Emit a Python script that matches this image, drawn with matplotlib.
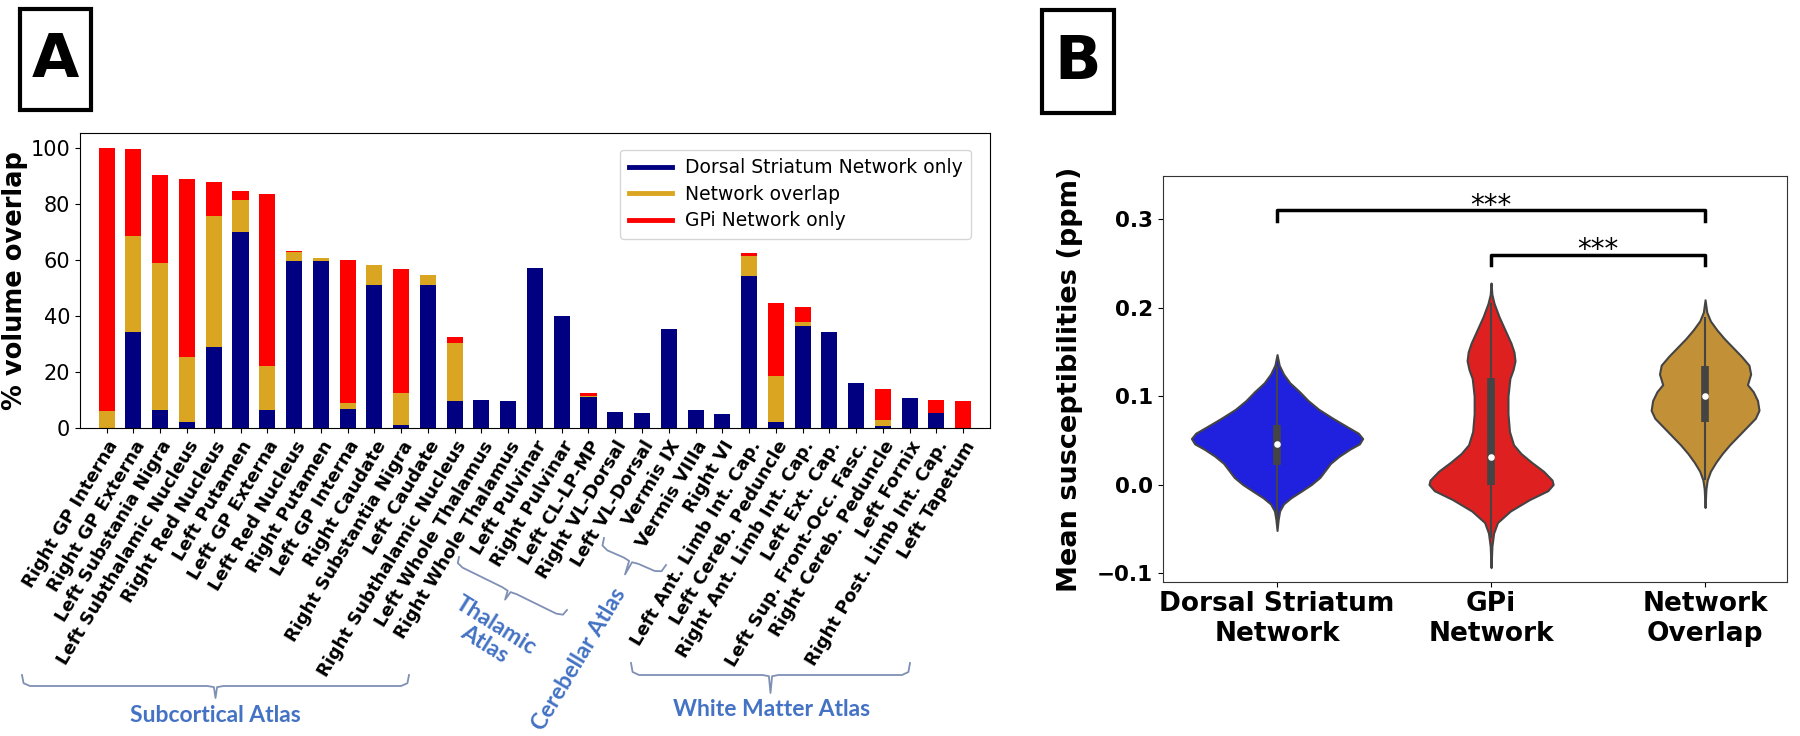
import numpy as np
import matplotlib.pyplot as plt
from matplotlib.lines import Line2D
from matplotlib.patches import Rectangle

# ---- panel A data (% volume overlap) ----
regions = ["Right GP Interna", "Right GP Externa", "Left Substania Nigra",
           "Left Subthalamic Nucleus", "Right Red Nucleus", "Left Putamen",
           "Left GP Externa", "Left Red Nucleus", "Right Putamen",
           "Left GP Interna", "Right Caudate", "Right Substantia Nigra",
           "Left Caudate", "Right Subthalamic Nucleus", "Left Whole Thalamus",
           "Right Whole Thalamus", "Left Pulvinar", "Right Pulvinar",
           "Left CL-LP-MP", "Right VL-Dorsal", "Left VL-Dorsal", "Vermis IX",
           "Vermis VIIIa", "Right VI", "Left Ant. Limb Int. Cap.",
           "Left Cereb. Peduncle", "Right Ant. Limb Int. Cap.", "Left Ext. Cap.",
           "Left Sup. Front-Occ. Fasc.", "Right Cereb. Peduncle", "Left Fornix",
           "Right Post. Limb Int. Cap.", "Left Tapetum"]
dorsal_only = [0, 34.2, 6.5, 2.0, 28.9, 70.1, 6.4, 59.7, 59.7, 6.9, 51.1, 0.95,
               51.1, 9.6, 10.0, 9.6, 57.2, 40.1, 10.9, 5.6, 5.2, 35.2, 6.4, 5.1,
               54.2, 2.3, 36.3, 34.2, 16.0, 0.8, 10.6, 5.3, 0]
overlap = [6.0, 34.3, 52.3, 23.2, 46.9, 11.5, 15.6, 3.1, 0.9, 2.2, 7.2, 11.45,
           3.5, 20.7, 0, 0, 0, 0, 0.4, 0, 0, 0, 0, 0,
           7.3, 16.1, 1.5, 0, 0, 1.9, 0, 0.2, 0]
gpi_only = [94.0, 31.1, 31.5, 63.6, 12.1, 3.2, 61.5, 0.5, 0, 50.9, 0, 44.3,
            0, 2.1, 0.1, 0, 0, 0, 1.1, 0, 0, 0, 0, 0,
            1.1, 26.4, 5.5, 0, 0, 11.4, 0, 4.6, 9.5]

# ---- panel B data: violin outlines (value, half width) ----
groups = ["Dorsal Striatum\nNetwork", "GPi\nNetwork", "Network\nOverlap"]
dorsal_y = [0.147, 0.135, 0.125, 0.115, 0.105, 0.095, 0.085, 0.075, 0.065, 0.058,
            0.052, 0.046, 0.040, 0.032, 0.024, 0.016, 0.008, 0.0, -0.008, -0.015,
            -0.022, -0.030, -0.040, -0.052]
dorsal_w = [0, 0.01, 0.03, 0.06, 0.105, 0.145, 0.195, 0.26, 0.33, 0.38,
            0.40, 0.385, 0.34, 0.29, 0.25, 0.225, 0.2, 0.16, 0.11, 0.065,
            0.03, 0.012, 0.005, 0]
gpi_y = [0.228, 0.215, 0.205, 0.19, 0.175, 0.16, 0.15, 0.14, 0.13, 0.12, 0.10,
         0.08, 0.06, 0.045, 0.035, 0.025, 0.015, 0.005, 0.0, -0.007, -0.017,
         -0.030, -0.043, -0.055, -0.07, -0.094]
gpi_w = [0, 0.004, 0.014, 0.037, 0.065, 0.093, 0.107, 0.112, 0.103, 0.088, 0.079,
         0.079, 0.086, 0.105, 0.14, 0.19, 0.245, 0.285, 0.29, 0.265, 0.18,
         0.09, 0.03, 0.012, 0.004, 0]
ovl_y = [0.209, 0.195, 0.185, 0.175, 0.165, 0.155, 0.145, 0.135, 0.125, 0.113,
         0.105, 0.095, 0.084, 0.075, 0.065, 0.055, 0.045, 0.035, 0.025, 0.015,
         0.005, -0.005, -0.026]
ovl_w = [0, 0.008, 0.025, 0.055, 0.09, 0.13, 0.17, 0.205, 0.213, 0.198,
         0.225, 0.245, 0.252, 0.235, 0.195, 0.155, 0.115, 0.08, 0.05, 0.025,
         0.01, 0.004, 0]
medians = [0.046, 0.031, 0.100]
q1 = [0.022, 0.0, 0.071]
q3 = [0.067, 0.120, 0.134]
whisk_lo = [-0.046, -0.06, 0.005]
whisk_hi = [0.134, 0.205, 0.19]

violin_colors = ["#2020DF", "#DF2020", "#C29137"]
bar_colors = ["navy", "goldenrod", "red"]
atlas_color = "#4472C4"
brace_color = "#7F90B5"

fig = plt.figure(figsize=(18, 7.36), dpi=100)

# ---------------- panel A ----------------
axA = fig.add_axes([0.0444, 0.4185, 0.5056, 0.4008])
x = np.arange(len(regions))
b1 = np.array(dorsal_only)
b2 = b1 + np.array(overlap)
axA.bar(x, dorsal_only, width=0.6, color=bar_colors[0])
axA.bar(x, overlap, width=0.6, bottom=b1, color=bar_colors[1])
axA.bar(x, gpi_only, width=0.6, bottom=b2, color=bar_colors[2])
axA.set_xlim(-1, len(regions))
axA.set_ylim(0, 105.4)
axA.set_xticks(x)
axA.set_xticklabels(regions, rotation=59, ha="right", va="top",
                    rotation_mode="anchor", fontsize=13, fontweight="bold")
axA.tick_params(axis="y", labelsize=15)
axA.set_ylabel("% volume overlap", fontsize=18.5, fontweight="bold", labelpad=2)
handles = [Line2D([], [], color=c, lw=3.5) for c in bar_colors]
axA.legend(handles, ["Dorsal Striatum Network only", "Network overlap",
                     "GPi Network only"], loc="upper right", fontsize=13.5,
           handlelength=2.3, handletextpad=0.7, borderpad=0.45,
           labelspacing=0.4, bbox_to_anchor=(0.9895, 0.975))

# ---------------- panel B ----------------
axB = fig.add_axes([0.6461, 0.2096, 0.3467, 0.5512])
outlines = [(dorsal_y, dorsal_w), (gpi_y, gpi_w), (ovl_y, ovl_w)]
vpstats = []
for (yy, ww), med in zip(outlines, medians):
    vpstats.append(dict(coords=np.array(yy), vals=np.array(ww), mean=med,
                        median=med, min=min(yy), max=max(yy)))
parts = axB.violin(vpstats, positions=[0, 1, 2],
                   widths=[2 * max(w) for _, w in outlines],
                   showmeans=False, showextrema=False, showmedians=False)
for body, c in zip(parts["bodies"], violin_colors):
    body.set_facecolor(c)
    body.set_edgecolor("#444444")
    body.set_linewidth(1.5)
    body.set_alpha(1)
pos = [0, 1, 2]
axB.vlines(pos, whisk_lo, whisk_hi, color="#444444", lw=1.5, zorder=3)
axB.vlines(pos, q1, q3, color="#444444", lw=5.5, zorder=3)
axB.scatter(pos, medians, s=14, color="white", zorder=4)

# significance brackets
for (xa, xb), yb in [((0, 2), 0.3106), ((1, 2), 0.260)]:
    axB.plot([xa, xa, xb, xb], [yb - 0.012, yb, yb, yb - 0.012], color="black",
             lw=2.5)
    axB.text((xa + xb) / 2, yb - 0.004, "***", ha="center", va="baseline",
             fontsize=20)

axB.set_xlim(-0.533, 2.383)
axB.set_ylim(-0.110, 0.349)
axB.set_yticks([-0.1, 0.0, 0.1, 0.2, 0.3])
axB.set_xticks(pos)
axB.set_xticklabels(groups, fontsize=19, fontweight="bold")
for lab in axB.get_yticklabels():
    lab.set_fontweight("bold")
axB.tick_params(axis="y", labelsize=15.5)
axB.set_ylabel("Mean susceptibilities (ppm)", fontsize=19.5, fontweight="bold",
               labelpad=10)
for sp in axB.spines.values():
    sp.set_color("#333333")

# ---------------- overlay: panel letters and atlas braces ----------------
ov = fig.add_axes([0, 0, 1, 1])
ov.set_xlim(0, 1800)
ov.set_ylim(736, 0)
ov.axis("off")

for (x0, y0, w, h), letter in [((20, 9, 71, 101), "A"), ((1042, 10, 72, 103), "B")]:
    ov.add_patch(Rectangle((x0, y0), w, h, fill=False, lw=3, ec="black"))
    ov.text(x0 + w / 2, y0 + h / 2 + 1, letter, ha="center", va="center",
            fontsize=44, fontweight="bold")


def brace(p1, p2, h1, h2):
    p1 = np.array(p1, float)
    p2 = np.array(p2, float)
    u = (p2 - p1) / np.linalg.norm(p2 - p1)
    n = np.array([-u[1], u[0]])
    m = (p1 + p2) / 2
    c = min(h1, 8)
    pts = [p1, p1 + n * h1 * 0.75 + u * c * 0.2, p1 + n * h1 + u * c,
           m + n * h1 - u * c, m + n * h1 * 1.1 - u * c * 0.2, m + n * h2,
           m + n * h1 * 1.1 + u * c * 0.2, m + n * h1 + u * c,
           p2 + n * h1 - u * c, p2 + n * h1 * 0.75 - u * c * 0.2, p2]
    pts = np.array(pts)
    ov.plot(pts[:, 0], pts[:, 1], color=brace_color, lw=1.3)


brace((22, 675), (409, 675), 11, 23)
brace((459, 557), (567, 610), 8, 18)
brace((604, 538), (666, 565), 10, 25)
brace((631, 663), (910, 663), 12, 30)

afont = dict(family=["Lato", "DejaVu Sans"], fontweight="bold", color=atlas_color,
             fontsize=16.5)
ov.text(215, 715, "Subcortical Atlas", ha="center", va="center", **afont)
ov.text(772, 710, "White Matter Atlas", ha="center", va="center", **afont)
ov.text(490, 635, "Thalamic\nAtlas", ha="center", va="center", rotation=-32,
        linespacing=1.0, **afont)
ov.text(579, 659, "Cerebellar Atlas", ha="center", va="center", rotation=59,
        **afont)

fig.savefig("out.png", dpi=100)
